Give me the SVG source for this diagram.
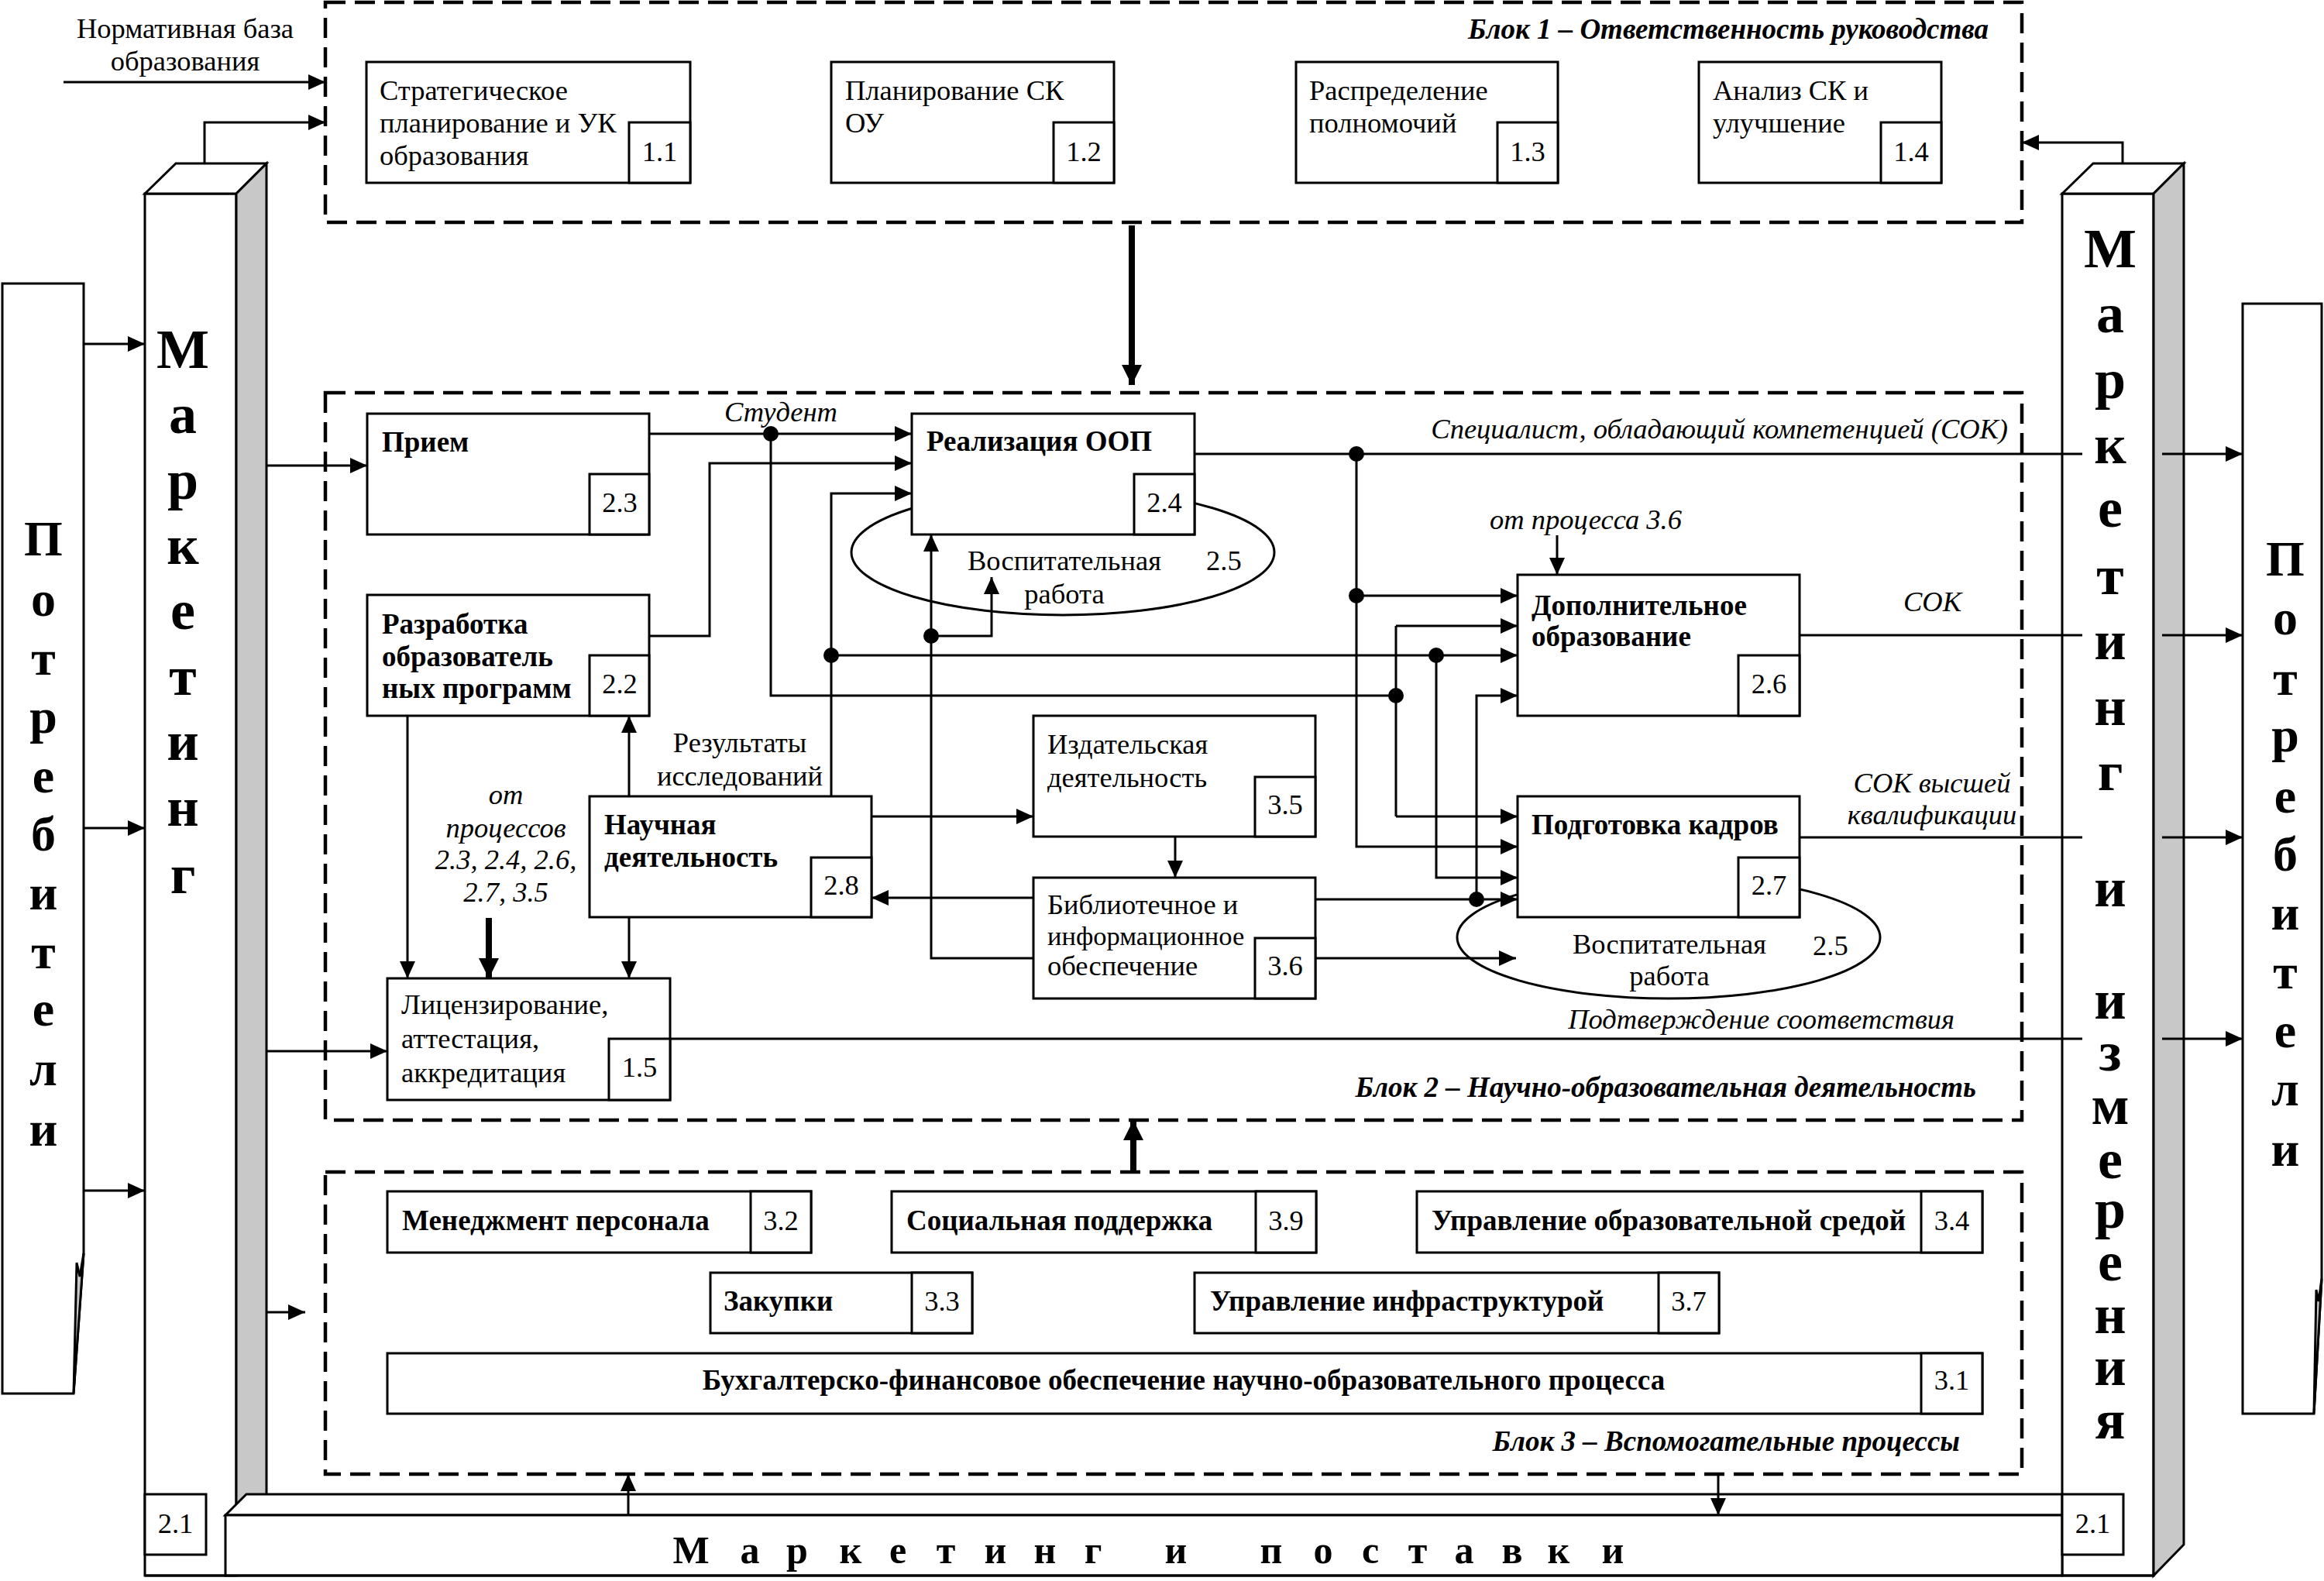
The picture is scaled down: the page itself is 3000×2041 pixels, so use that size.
<svg xmlns="http://www.w3.org/2000/svg" width="3000" height="2041" viewBox="0 0 3000 2041">
<style>
.bg{fill:#fff}
.box{fill:#fff;stroke:#000;stroke-width:3}
.gray{fill:#c8c8c8;stroke:#000;stroke-width:3}
.dash{fill:none;stroke:#000;stroke-width:4.5;stroke-dasharray:26 12}
.ln{fill:none;stroke:#000;stroke-width:3}
.ar{marker-end:url(#ah)}
.th{fill:none;stroke:#000;stroke-width:8;marker-end:url(#ahT)}
text{font-family:"Liberation Serif","Times New Roman",serif;fill:#000}
.t{font-size:36.5px}
.c{text-anchor:middle}
.e{text-anchor:end}
.b{font-size:37px;font-weight:bold}
.i{font-size:36.5px;font-style:italic}
.bi{font-size:37px;font-weight:bold;font-style:italic}
.big{font-size:64px;font-weight:bold;text-anchor:middle}
.mk{font-size:72px;font-weight:bold;text-anchor:middle}
.bar{font-size:50px;font-weight:bold;text-anchor:middle}
</style>
<defs>
<marker id="ah" markerUnits="userSpaceOnUse" markerWidth="24" markerHeight="22" refX="22" refY="10" orient="auto"><path d="M0,0 L22,10 L0,20 Z" fill="#000"/></marker>
<marker id="ahT" markerUnits="userSpaceOnUse" markerWidth="28" markerHeight="28" refX="26" refY="13" orient="auto"><path d="M0,0 L26,13 L0,26 Z" fill="#000"/></marker>
</defs>
<rect class="bg" x="0" y="0" width="3000" height="2041"/>

<g id="consumers-left">
<path class="box" d="M3,366 H108 V1618 L95,1799 H3 Z"/>
<path class="gray" d="M108,1618 L95,1799 L99,1630 L103,1648 Z" stroke-width="2"/>
<text class="big" x="56 56 56 56 56 56 56 56 56 56 56" y="717 795 871 946 1023 1098 1174 1250 1324 1401 1479">Потребители</text>
</g>

<g id="consumers-right">
<path class="box" d="M2895,392 H2997 V1651 L2987,1825 H2895 Z"/>
<path class="gray" d="M2997,1651 L2987,1825 L2990,1665 L2993,1680 Z" stroke-width="2"/>
<text class="big" x="2950 2950 2950 2950 2950 2950 2950 2950 2950 2950 2950" y="743 819 897 970 1049 1124 1200 1276 1352 1427 1505">Потребители</text>
</g>

<g id="marketing-left">
<rect class="box" x="187" y="250" width="118" height="1784"/>
<path class="box" d="M187,250 L227,211 H344 L305,250 Z"/>
<path class="gray" d="M305,250 L344,211 V1960 H305 Z"/>
<text class="mk" x="236 236 236 236 236 236 236 236 236" y="475 559 644 728 812 897 981 1066 1153">Маркетинг</text>
<rect class="box" x="187" y="1929" width="79" height="78"/>
<text class="t c" x="226.5" y="1979">2.1</text>
</g>

<g id="marketing-right">
<rect class="box" x="2662" y="250" width="118" height="1784"/>
<path class="box" d="M2662,250 L2702,211 H2819 L2780,250 Z"/>
<path class="gray" d="M2780,250 L2819,211 V1994 L2780,2034 Z"/>
<text class="mk" x="2724 2724 2724 2724 2724 2724 2724 2724 2724 2724 2724 2724 2724 2724 2724 2724 2724 2724 2724 2724 2724" y="345 429 514 598 680 767 851 936 1020 1095 1170 1243 1315 1382 1451 1521 1585 1653 1721 1788 1857">Маркетинг и измерения</text>
</g>

<g id="marketing-bottom">
<path class="box" d="M291,1956 L318,1929 H2662 V1956 Z"/>
<rect class="box" x="291" y="1956" width="2371" height="78"/>
<line class="ln" x1="187" y1="2034" x2="2780" y2="2034"/>
<text class="bar" x="892 968 1029 1098 1159 1221 1285 1349 1411 1465 1518 1580 1641 1708 1769 1830 1890 1952 2012 2082" y="2018">Маркетинг и поставки</text>
<rect class="box" x="2662" y="1929" width="79" height="78"/>
<text class="t c" x="2701.5" y="1979">2.1</text>
</g>

<g id="input-label">
<text class="t c" x="239" y="49">Нормативная база</text>
<text class="t c" x="239" y="91">образования</text>
</g>

<g id="block1">
<rect class="dash" x="420" y="3" width="2190" height="284"/>
<text class="bi e" x="2567" y="50">Блок 1 – Ответственность руководства</text>
</g>
<g id="n1.1">
<rect class="box" x="473" y="80" width="418" height="156"/>
<rect class="box" x="812" y="158" width="79" height="78"/>
<text class="t" x="490" y="129">Стратегическое</text>
<text class="t" x="490" y="171">планирование и УК</text>
<text class="t" x="490" y="213">образования</text>
<text class="t c" x="851.5" y="208">1.1</text>
</g>
<g id="n1.2">
<rect class="box" x="1073" y="80" width="365" height="156"/>
<rect class="box" x="1360" y="158" width="78" height="78"/>
<text class="t" x="1091" y="129">Планирование СК</text>
<text class="t" x="1091" y="171">ОУ</text>
<text class="t c" x="1399" y="208">1.2</text>
</g>
<g id="n1.3">
<rect class="box" x="1673" y="80" width="338" height="156"/>
<rect class="box" x="1933" y="158" width="78" height="78"/>
<text class="t" x="1690" y="129">Распределение</text>
<text class="t" x="1690" y="171">полномочий</text>
<text class="t c" x="1972" y="208">1.3</text>
</g>
<g id="n1.4">
<rect class="box" x="2193" y="80" width="313" height="156"/>
<rect class="box" x="2428" y="158" width="78" height="78"/>
<text class="t" x="2211" y="129">Анализ СК и</text>
<text class="t" x="2211" y="171">улучшение</text>
<text class="t c" x="2467" y="208">1.4</text>
</g>

<g id="block2">
<rect class="dash" x="420" y="507" width="2190" height="939"/>
<text class="bi e" x="2551" y="1416">Блок 2 – Научно-образовательная деятельность</text>
</g>
<g id="n2.5a">
<ellipse class="box" cx="1372" cy="713" rx="273" ry="81"/>
<text class="t" x="1249" y="736">Воспитательная</text>
<text class="t c" x="1374" y="779">работа</text>
<text class="t" x="1557" y="736">2.5</text>
</g>
<g id="n2.5b">
<ellipse class="box" cx="2154" cy="1210" rx="273" ry="79"/>
<text class="t" x="2030" y="1231">Воспитательная</text>
<text class="t c" x="2155" y="1272">работа</text>
<text class="t" x="2340" y="1233">2.5</text>
</g>
<g id="n2.3">
<rect class="box" x="474" y="534" width="364" height="156"/>
<rect class="box" x="761" y="612" width="77" height="78"/>
<text class="b" x="493" y="583">Прием</text>
<text class="t c" x="800" y="661">2.3</text>
</g>
<g id="n2.4">
<rect class="box" x="1177" y="534" width="365" height="156"/>
<rect class="box" x="1464" y="612" width="78" height="78"/>
<text class="b" x="1196" y="582">Реализация ООП</text>
<text class="t c" x="1503" y="661">2.4</text>
</g>
<g id="n2.2">
<rect class="box" x="474" y="768" width="364" height="156"/>
<rect class="box" x="761" y="846" width="77" height="78"/>
<text class="b" x="493" y="818">Разработка</text>
<text class="b" x="493" y="860">образователь</text>
<text class="b" x="493" y="901">ных программ</text>
<text class="t c" x="800" y="895">2.2</text>
</g>
<g id="n2.8">
<rect class="box" x="761" y="1028" width="364" height="156"/>
<rect class="box" x="1047" y="1107" width="78" height="77"/>
<text class="b" x="780" y="1077">Научная</text>
<text class="b" x="780" y="1119">деятельность</text>
<text class="t c" x="1086" y="1155">2.8</text>
</g>
<g id="n1.5">
<rect class="box" x="500" y="1263" width="365" height="157"/>
<rect class="box" x="786" y="1341" width="79" height="79"/>
<text class="t" x="518" y="1309">Лицензирование,</text>
<text class="t" x="518" y="1353">аттестация,</text>
<text class="t" x="518" y="1397">аккредитация</text>
<text class="t c" x="825.5" y="1390">1.5</text>
</g>
<g id="n3.5">
<rect class="box" x="1334" y="924" width="364" height="156"/>
<rect class="box" x="1620" y="1003" width="78" height="77"/>
<text class="t" x="1352" y="973">Издательская</text>
<text class="t" x="1352" y="1016">деятельность</text>
<text class="t c" x="1659" y="1051">3.5</text>
</g>
<g id="n3.6">
<rect class="box" x="1334" y="1133" width="364" height="156"/>
<rect class="box" x="1620" y="1211" width="78" height="78"/>
<text class="t" x="1352" y="1180">Библиотечное и</text>
<text class="t" x="1352" y="1220" style="font-size:34.5px">информационное</text>
<text class="t" x="1352" y="1259">обеспечение</text>
<text class="t c" x="1659" y="1259">3.6</text>
</g>
<g id="n2.6">
<rect class="box" x="1959" y="742" width="364" height="182"/>
<rect class="box" x="2244" y="846" width="79" height="78"/>
<text class="b" x="1977" y="794">Дополнительное</text>
<text class="b" x="1977" y="834">образование</text>
<text class="t c" x="2283.5" y="895">2.6</text>
</g>
<g id="n2.7">
<rect class="box" x="1959" y="1028" width="364" height="156"/>
<rect class="box" x="2244" y="1107" width="79" height="77"/>
<text class="b" x="1977" y="1077">Подготовка кадров</text>
<text class="t c" x="2283.5" y="1155">2.7</text>
</g>

<g id="block3">
<rect class="dash" x="420" y="1513" width="2190" height="390"/>
<text class="bi e" x="2530" y="1873">Блок 3 – Вспомогательные процессы</text>
</g>
<g id="n3.2">
<rect class="box" x="500" y="1538" width="547" height="79"/>
<rect class="box" x="969" y="1538" width="78" height="79"/>
<text class="b" x="519" y="1588">Менеджмент персонала</text>
<text class="t c" x="1008" y="1588">3.2</text>
</g>
<g id="n3.9">
<rect class="box" x="1151" y="1538" width="548" height="79"/>
<rect class="box" x="1621" y="1538" width="78" height="79"/>
<text class="b" x="1170" y="1588">Социальная поддержка</text>
<text class="t c" x="1660" y="1588">3.9</text>
</g>
<g id="n3.4">
<rect class="box" x="1829" y="1538" width="730" height="79"/>
<rect class="box" x="2480" y="1538" width="79" height="79"/>
<text class="b" x="1848" y="1588">Управление образовательной средой</text>
<text class="t c" x="2519.5" y="1588">3.4</text>
</g>
<g id="n3.3">
<rect class="box" x="917" y="1643" width="338" height="78"/>
<rect class="box" x="1177" y="1643" width="78" height="78"/>
<text class="b" x="934" y="1692">Закупки</text>
<text class="t c" x="1216" y="1692">3.3</text>
</g>
<g id="n3.7">
<rect class="box" x="1542" y="1643" width="677" height="78"/>
<rect class="box" x="2141" y="1643" width="78" height="78"/>
<text class="b" x="1562" y="1692">Управление инфраструктурой</text>
<text class="t c" x="2180" y="1692">3.7</text>
</g>
<g id="n3.1">
<rect class="box" x="500" y="1747" width="2059" height="78"/>
<rect class="box" x="2480" y="1747" width="79" height="78"/>
<text class="b c" x="1528" y="1794">Бухгалтерско-финансовое обеспечение научно-образовательного процесса</text>
<text class="t c" x="2519.5" y="1794">3.1</text>
</g>

<g id="labels">
<text class="i c" x="1008" y="544">Студент</text>
<text class="t c" x="955" y="971">Результаты</text>
<text class="t c" x="955" y="1014">исследований</text>
<text class="i c" x="653" y="1038">от</text>
<text class="i c" x="653" y="1081">процессов</text>
<text class="i c" x="653" y="1122">2.3, 2.4, 2.6,</text>
<text class="i c" x="653" y="1164">2.7, 3.5</text>
<text class="i c" x="2047" y="683">от процесса 3.6</text>
<text class="i e" x="2592" y="566">Специалист, обладающий компетенцией (СОК)</text>
<text class="i" x="2457" y="789">СОК</text>
<text class="i c" x="2494" y="1023">СОК высшей</text>
<text class="i c" x="2494" y="1064">квалификации</text>
<text class="i e" x="2523" y="1328">Подтверждение соответствия</text>
</g>

<g id="connectors">
<path class="ln ar" d="M82,106 H420"/>
<path class="ln ar" d="M264,211 V158 H420"/>
<path class="ln ar" d="M2740,211 V184 H2610"/>
<path class="ln ar" d="M108,444 H187"/>
<path class="ln ar" d="M108,1069 H187"/>
<path class="ln ar" d="M108,1537 H187"/>
<path class="ln ar" d="M344,601 H474"/>
<path class="ln ar" d="M344,1357 H500"/>
<path class="ln ar" d="M344,1694 H394"/>
<path class="th" d="M1461,291 V497"/>
<path class="th" d="M1463,1513 V1446"/>
<path class="th" d="M631,1185 V1263"/>
<path class="ln ar" d="M811,1956 V1903"/>
<path class="ln ar" d="M2218,1903 V1956"/>
<path class="ln ar" d="M838,560 H1177"/>
<path class="ln" d="M995,560 V898 H1802"/>
<path class="ln" d="M1802,808 V1054"/>
<path class="ln ar" d="M1802,808 H1959"/>
<path class="ln ar" d="M1802,1054 H1959"/>
<path class="ln ar" d="M838,821 H916 V598 H1177"/>
<path class="ln ar" d="M1073,1028 V637 H1177"/>
<path class="ln ar" d="M1073,846 H1959"/>
<path class="ln ar" d="M1854,846 V1133 H1959"/>
<path class="ln" d="M1542,586 H2688"/>
<path class="ln ar" d="M1751,586 V1093 H1959"/>
<path class="ln ar" d="M1751,769 H1959"/>
<path class="ln" d="M2323,820 H2688"/>
<path class="ln" d="M2323,1081 H2688"/>
<path class="ln" d="M865,1341 H2688"/>
<path class="ln ar" d="M2791,586 H2895"/>
<path class="ln ar" d="M2791,820 H2895"/>
<path class="ln ar" d="M2791,1081 H2895"/>
<path class="ln ar" d="M2791,1341 H2895"/>
<path class="ln ar" d="M1698,1161 H1959"/>
<path class="ln ar" d="M1906,1161 V898 H1959"/>
<path class="ln ar" d="M1698,1237 H1957"/>
<path class="ln ar" d="M1334,1237 H1202 V690"/>
<path class="ln ar" d="M1202,821 H1280 V745"/>
<path class="ln ar" d="M1125,1054 H1334"/>
<path class="ln ar" d="M1334,1159 H1125"/>
<path class="ln ar" d="M1517,1080 V1133"/>
<path class="ln ar" d="M812,1028 V924"/>
<path class="ln ar" d="M812,1184 V1263"/>
<path class="ln ar" d="M526,924 V1263"/>
<path class="ln ar" d="M2010,691 V742"/>
<g fill="#000">
<circle cx="995" cy="560" r="10"/>
<circle cx="1802" cy="898" r="10"/>
<circle cx="1073" cy="846" r="10"/>
<circle cx="1854" cy="846" r="10"/>
<circle cx="1751" cy="586" r="10"/>
<circle cx="1751" cy="769" r="10"/>
<circle cx="1906" cy="1161" r="10"/>
<circle cx="1202" cy="821" r="10"/>
</g>
</g>
</svg>
